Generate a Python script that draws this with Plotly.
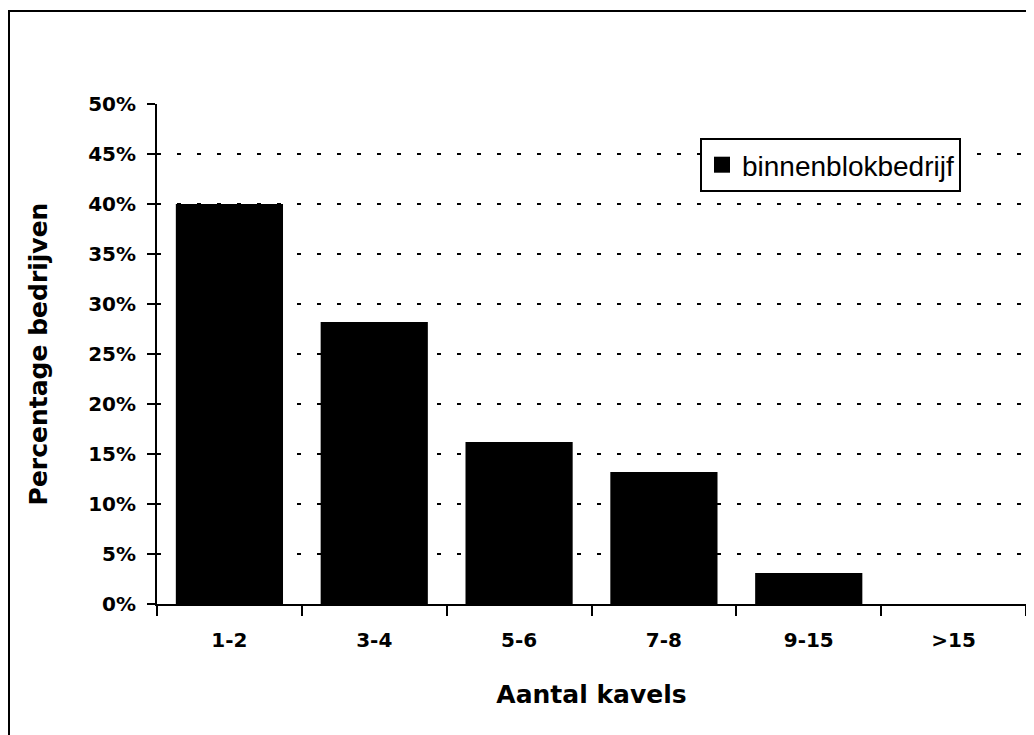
import plotly.graph_objects as go

categories = ["1-2", "3-4", "5-6", "7-8", "9-15", ">15"]
values = [40.0, 28.2, 16.2, 13.2, 3.1, 0.0]
series_name = "binnenblokbedrijf"
y_ticks = [0, 5, 10, 15, 20, 25, 30, 35, 40, 45, 50]
y_tick_labels = [f"{v}%" for v in y_ticks]

# page body adds an 8px offset; margins chosen so the plot lands where the reference has it
OFF = 8
L, R, T, B = 157 - OFF, 16, 104 - OFF, 139
W, H = 1034, 735
pw, ph = W - L - R, H - T - B

font = "DejaVu Sans, sans-serif"

fig = go.Figure()
fig.add_trace(go.Bar(
    x=categories, y=values, name=series_name,
    marker=dict(color="black", line=dict(width=0)),
    showlegend=False,
))
# legend entry with a large square swatch like the reference
fig.add_trace(go.Scatter(
    x=[None], y=[None], mode="markers", name=series_name,
    marker=dict(symbol="square", size=20, color="black"),
    showlegend=True, hoverinfo="skip",
))

fig.update_layout(
    width=W, height=H,
    margin=dict(l=L, r=R, t=T, b=B),
    paper_bgcolor="white", plot_bgcolor="white",
    bargap=0.26,
    font=dict(family=font, size=20, color="black"),
    showlegend=True,
    legend=dict(
        x=(700 - OFF - L) / pw, y=(H - B - (138 - OFF)) / ph,
        xanchor="left", yanchor="top",
        bgcolor="white", bordercolor="black", borderwidth=2,
        font=dict(size=28, family="Liberation Sans, Arial, sans-serif", color="black"),
        itemsizing="trace", itemwidth=30,
    ),
    xaxis=dict(
        showline=True, linecolor="black", linewidth=2,
        ticks="outside", ticklen=10, tickwidth=2, tickcolor="black",
        tickson="boundaries", showgrid=False, ticklabelstandoff=17,
        tickfont=dict(size=20, family=font, weight="bold"),
        title=dict(text="<b>Aantal kavels</b>", font=dict(size=25, family=font), standoff=34),
        fixedrange=True,
    ),
    yaxis=dict(
        range=[0, 50], tickvals=y_ticks, ticktext=y_tick_labels,
        showline=True, linecolor="black", linewidth=2,
        ticks="outside", ticklen=8, tickwidth=2, tickcolor="black",
        showgrid=True, gridcolor="black", gridwidth=1.5, griddash="4px,16px",
        zeroline=False, ticklabelstandoff=7,
        tickfont=dict(size=20, family=font, weight="bold"),
        title=dict(text="<b>Percentage bedrijven</b>", font=dict(size=25, family=font), standoff=33),
        fixedrange=True,
    ),
    shapes=[dict(
        type="rect", xref="paper", yref="paper",
        x0=(1 - L) / pw, x1=(W + 20 - L) / pw,
        y0=(H - B - (H + 20)) / ph, y1=(H - B - 3) / ph,
        line=dict(color="black", width=2), fillcolor="rgba(0,0,0,0)", layer="below",
    )],
)

fig.write_html("out.html")
